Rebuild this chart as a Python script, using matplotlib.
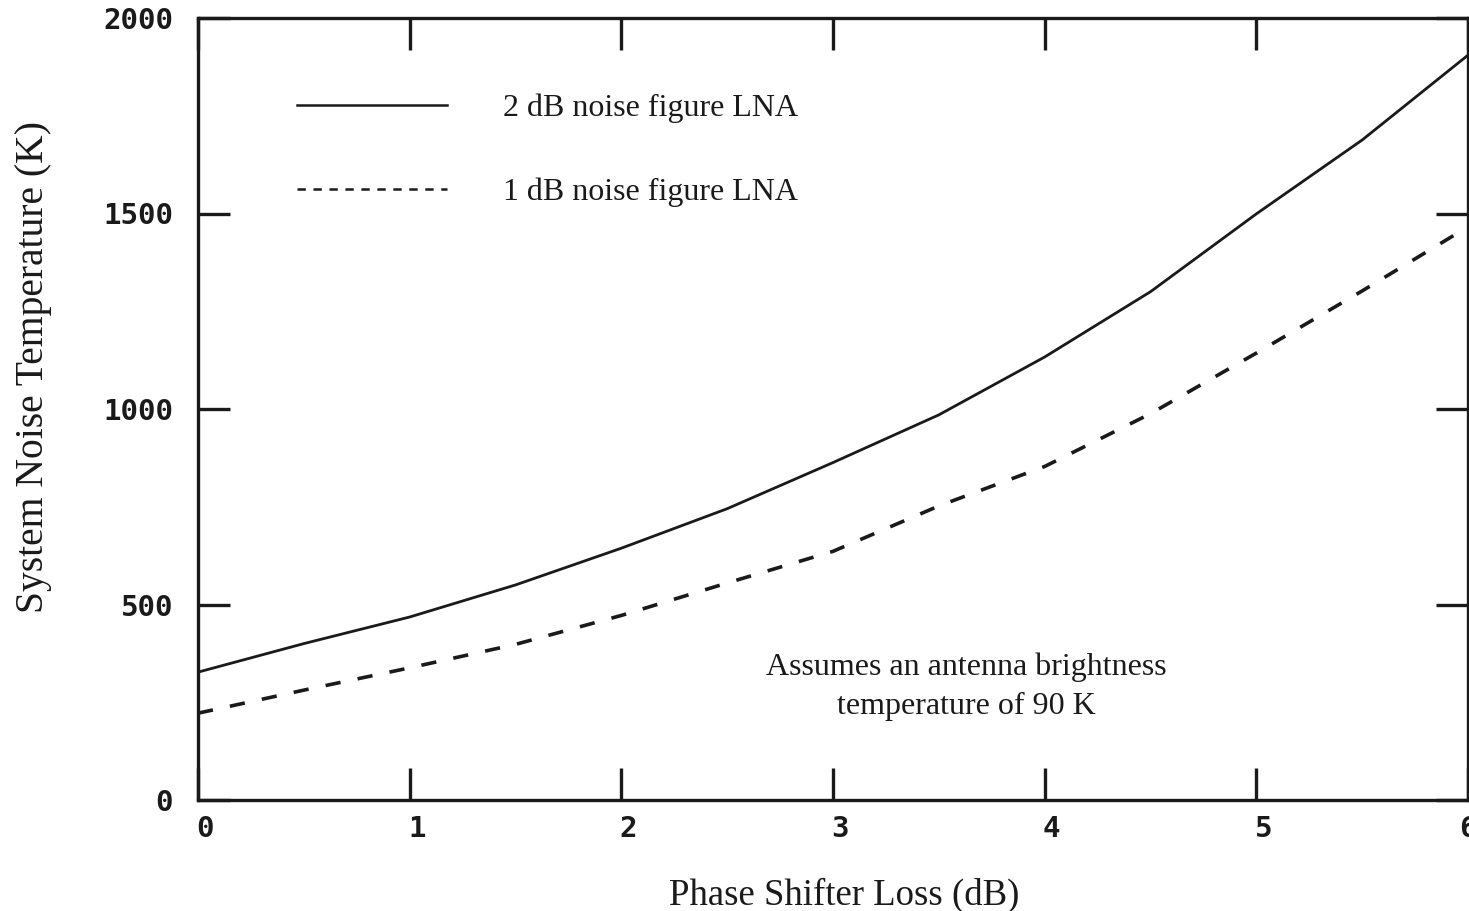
import matplotlib
matplotlib.use("Agg")
import matplotlib.pyplot as plt
from matplotlib.lines import Line2D
from matplotlib.transforms import ScaledTranslation

plt.rcParams['lines.scale_dashes'] = False

# Data
loss_db = [0, 0.5, 1, 1.5, 2, 2.5, 3, 3.5, 4, 4.5, 5, 5.5, 6]
t_2db = [327, 400, 468, 550, 644, 745, 863, 985, 1133, 1300, 1499, 1688, 1905]
t_1db = [222, 281, 338, 398, 472, 555, 636, 752, 853, 988, 1143, 1302, 1466]

xticks = [0, 1, 2, 3, 4, 5, 6]
yticks = [0, 500, 1000, 1500, 2000]
xtick_labels = ["0", "1", "2", "3", "4", "5", "6"]
ytick_labels = ["0", "500", "1000", "1500", "2000"]

label_2db = "2 dB noise figure LNA"
label_1db = "1 dB noise figure LNA"
xlabel = "Phase Shifter Loss (dB)"
ylabel = "System Noise Temperature (K)"
note = "Assumes an antenna brightness\ntemperature of 90 K"

serif = "Liberation Serif"
mono = "DejaVu Sans Mono"

fig = plt.figure(figsize=(14.69, 9.11), dpi=100)
ax = fig.add_axes([198 / 1469, 1 - 800 / 911, 1270 / 1469, 782 / 911])

ink = "#1a1a1a"
ax.plot(loss_db, t_2db, color=ink, lw=2.0, solid_capstyle="butt")
ax.plot(loss_db, t_1db, color=ink, lw=2.6, dashes=(11, 12.5))

ax.set_xlim(0, 6)
ax.set_ylim(0, 2000)
ax.set_xticks(xticks)
ax.set_xticklabels(xtick_labels)
ax.set_yticks(yticks)
ax.set_yticklabels(ytick_labels)

for sp in ax.spines.values():
    sp.set_linewidth(2.4)
    sp.set_color(ink)

ax.tick_params(axis="both", which="both", direction="in", length=23, width=2.4,
               color=ink, top=True, right=True)
ax.tick_params(axis="x", pad=11)
ax.tick_params(axis="y", pad=18)
xlabs = ax.get_xticklabels()
for i, lab in enumerate(xlabs):
    dx = 7 if i < len(xlabs) - 1 else 0
    lab.set_transform(lab.get_transform() + ScaledTranslation(dx / 100, 0, fig.dpi_scale_trans))
for lab in xlabs + ax.get_yticklabels():
    lab.set_fontfamily(mono)
    lab.set_fontweight("bold")
    lab.set_fontsize(21)
    lab.set_color(ink)

ax.set_xlabel(xlabel, fontfamily=serif, fontsize=26.5, color=ink)
ax.xaxis.set_label_coords(0.509, (800 - 878) / 782)
ax.set_ylabel(ylabel, fontfamily=serif, fontsize=28.5, color=ink)
ax.yaxis.set_label_coords((52 - 198) / 1270, (800 - 367) / 782)

handles = [
    Line2D([], [], color=ink, lw=1.8),
    Line2D([], [], color=ink, lw=1.8, dashes=(6, 5.5)),
]
ax.legend(handles, [label_2db, label_1db], loc="upper left",
          bbox_to_anchor=(0.055, 0.94), frameon=False,
          prop={"family": serif, "size": 23}, handlelength=4.7,
          handletextpad=1.75, labelspacing=1.7, labelcolor=ink)

ax.text(3.63, 290, note, fontfamily=serif, fontsize=23, ha="center",
        va="center", color=ink, linespacing=1.45)

fig.savefig("out.png", dpi=100)
